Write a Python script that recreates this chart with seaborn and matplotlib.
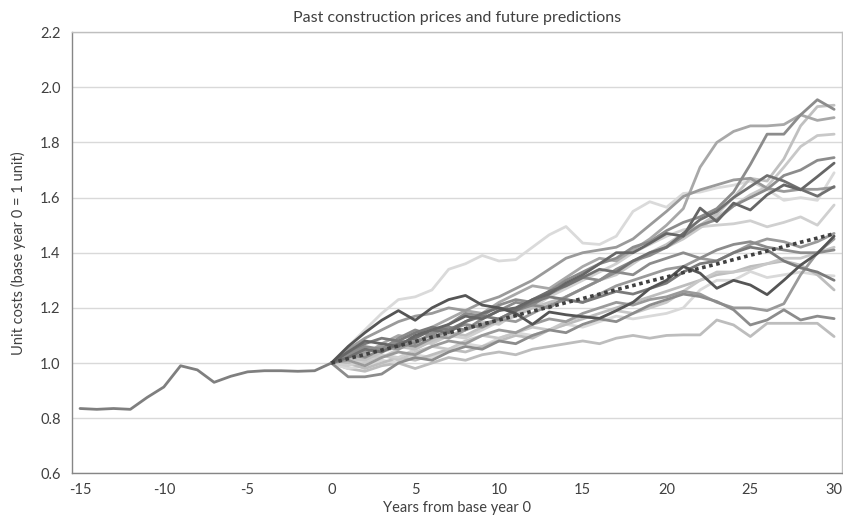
import matplotlib
matplotlib.use("Agg")
from matplotlib import pyplot as plt
import pandas as pd
import seaborn as sns

# past prices, years -15..0
past_years = list(range(-15, 1))
past_costs = [0.835, 0.832, 0.835, 0.832, 0.875, 0.913, 0.99, 0.975, 0.93,
              0.952, 0.968, 0.972, 0.972, 0.970, 0.972, 1.0]

# predicted scenarios, years 0..30
future_years = list(range(0, 31))
scen_a = [1.00, 1.03, 1.06, 1.05, 1.09, 1.12, 1.10, 1.14, 1.18, 1.17, 1.21, 1.23, 1.22, 1.26, 1.30, 1.33,
          1.36, 1.38, 1.42, 1.44, 1.48, 1.51, 1.53, 1.56, 1.62, 1.72, 1.83, 1.83, 1.90, 1.955, 1.92]
scen_b = [1.00, 1.02, 1.01, 1.04, 1.06, 1.05, 1.08, 1.11, 1.10, 1.13, 1.15, 1.17, 1.20, 1.22, 1.24, 1.27,
          1.30, 1.33, 1.37, 1.40, 1.43, 1.47, 1.50, 1.54, 1.60, 1.67, 1.66, 1.74, 1.86, 1.93, 1.935]
scen_c = [1.00, 1.04, 1.03, 1.07, 1.10, 1.09, 1.13, 1.16, 1.19, 1.18, 1.22, 1.25, 1.28, 1.27, 1.31, 1.35,
          1.38, 1.37, 1.41, 1.45, 1.50, 1.56, 1.71, 1.80, 1.84, 1.86, 1.86, 1.865, 1.90, 1.88, 1.89]
scen_d = [1.00, 1.01, 1.03, 1.02, 1.05, 1.08, 1.07, 1.10, 1.12, 1.15, 1.14, 1.18, 1.21, 1.20, 1.24, 1.27,
          1.30, 1.32, 1.36, 1.40, 1.42, 1.45, 1.49, 1.53, 1.57, 1.61, 1.64, 1.71, 1.785, 1.825, 1.83]
scen_e = [1.00, 1.03, 1.02, 1.05, 1.08, 1.07, 1.11, 1.13, 1.12, 1.16, 1.19, 1.22, 1.21, 1.25, 1.28, 1.31,
          1.30, 1.34, 1.37, 1.39, 1.42, 1.46, 1.50, 1.52, 1.57, 1.60, 1.63, 1.68, 1.70, 1.735, 1.745]
scen_f = [1.00, 1.04, 1.08, 1.07, 1.06, 1.10, 1.12, 1.14, 1.17, 1.16, 1.19, 1.20, 1.23, 1.25, 1.29, 1.32,
          1.36, 1.40, 1.40, 1.434, 1.47, 1.46, 1.562, 1.513, 1.58, 1.555, 1.61, 1.646, 1.628, 1.676, 1.725]
scen_g = [1.00, 1.06, 1.12, 1.18, 1.23, 1.24, 1.265, 1.34, 1.36, 1.39, 1.37, 1.375, 1.42, 1.465, 1.495, 1.435,
          1.43, 1.46, 1.55, 1.585, 1.565, 1.615, 1.62, 1.635, 1.645, 1.66, 1.63, 1.59, 1.60, 1.59, 1.69]
scen_h = [1.00, 1.02, 1.05, 1.04, 1.07, 1.09, 1.12, 1.11, 1.15, 1.18, 1.20, 1.19, 1.23, 1.26, 1.28, 1.31,
          1.34, 1.33, 1.37, 1.40, 1.42, 1.47, 1.52, 1.55, 1.60, 1.64, 1.68, 1.66, 1.63, 1.605, 1.64]
scen_i = [1.00, 1.05, 1.09, 1.12, 1.15, 1.17, 1.18, 1.20, 1.19, 1.22, 1.24, 1.27, 1.30, 1.34, 1.38, 1.40,
          1.41, 1.42, 1.45, 1.50, 1.55, 1.604, 1.628, 1.646, 1.664, 1.67, 1.634, 1.622, 1.63, 1.63, 1.637]
scen_j = [1.00, 0.99, 1.01, 1.03, 1.02, 1.05, 1.08, 1.10, 1.09, 1.12, 1.15, 1.18, 1.20, 1.24, 1.27, 1.30,
          1.33, 1.36, 1.40, 1.43, 1.46, 1.483, 1.494, 1.50, 1.505, 1.516, 1.494, 1.51, 1.53, 1.50, 1.573]
scen_k = [1.00, 1.06, 1.11, 1.155, 1.19, 1.155, 1.20, 1.23, 1.245, 1.21, 1.20, 1.18, 1.14, 1.185, 1.175, 1.168,
          1.162, 1.19, 1.22, 1.27, 1.30, 1.35, 1.326, 1.271, 1.30, 1.283, 1.248, 1.30, 1.355, 1.397, 1.46]
scen_l = [1.00, 1.02, 1.04, 1.06, 1.05, 1.08, 1.10, 1.09, 1.12, 1.14, 1.16, 1.15, 1.18, 1.21, 1.23, 1.22,
          1.25, 1.28, 1.30, 1.32, 1.34, 1.35, 1.38, 1.37, 1.40, 1.43, 1.45, 1.44, 1.42, 1.44, 1.47]
scen_m = [1.00, 1.01, 0.99, 1.02, 1.04, 1.03, 1.06, 1.08, 1.07, 1.10, 1.12, 1.11, 1.14, 1.16, 1.15, 1.18,
          1.20, 1.22, 1.21, 1.23, 1.24, 1.26, 1.25, 1.22, 1.20, 1.20, 1.19, 1.215, 1.32, 1.40, 1.45]
scen_n = [1.00, 1.03, 1.05, 1.04, 1.07, 1.06, 1.09, 1.12, 1.14, 1.13, 1.16, 1.19, 1.21, 1.20, 1.24, 1.27,
          1.30, 1.33, 1.32, 1.36, 1.38, 1.40, 1.38, 1.41, 1.43, 1.44, 1.42, 1.41, 1.40, 1.40, 1.41]
scen_o = [1.00, 0.98, 0.99, 1.01, 1.00, 1.03, 1.02, 1.05, 1.07, 1.06, 1.09, 1.11, 1.10, 1.12, 1.14, 1.13,
          1.15, 1.17, 1.16, 1.17, 1.18, 1.20, 1.265, 1.30, 1.30, 1.332, 1.31, 1.32, 1.33, 1.32, 1.316]
scen_p = [1.00, 1.04, 1.07, 1.09, 1.08, 1.11, 1.13, 1.12, 1.15, 1.17, 1.16, 1.19, 1.22, 1.24, 1.23, 1.22,
          1.24, 1.26, 1.25, 1.27, 1.29, 1.33, 1.36, 1.37, 1.40, 1.42, 1.41, 1.37, 1.345, 1.33, 1.30]
scen_q = [1.00, 1.00, 0.98, 1.00, 1.02, 1.01, 1.03, 1.05, 1.04, 1.06, 1.08, 1.10, 1.09, 1.12, 1.14, 1.16,
          1.18, 1.20, 1.22, 1.24, 1.26, 1.28, 1.30, 1.32, 1.33, 1.35, 1.36, 1.37, 1.355, 1.32, 1.265]
scen_r = [1.00, 0.95, 0.95, 0.96, 1.00, 1.02, 1.01, 1.04, 1.06, 1.05, 1.08, 1.07, 1.10, 1.12, 1.11, 1.14,
          1.16, 1.15, 1.18, 1.21, 1.23, 1.25, 1.241, 1.223, 1.193, 1.138, 1.156, 1.193, 1.156, 1.17, 1.161]
scen_s = [1.00, 0.98, 0.97, 0.99, 1.00, 0.98, 1.00, 1.02, 1.01, 1.03, 1.04, 1.03, 1.05, 1.06, 1.07, 1.08,
          1.07, 1.09, 1.10, 1.09, 1.10, 1.102, 1.102, 1.156, 1.138, 1.096, 1.144, 1.144, 1.144, 1.144, 1.096]
scen_t = [1.00, 1.02, 1.00, 1.03, 1.01, 1.04, 1.06, 1.05, 1.08, 1.10, 1.09, 1.11, 1.13, 1.12, 1.15, 1.17,
          1.16, 1.19, 1.18, 1.20, 1.22, 1.26, 1.30, 1.33, 1.33, 1.34, 1.36, 1.38, 1.38, 1.40, 1.42]

# average prediction (dotted)
mean_pred = [1.000, 1.016, 1.031, 1.047, 1.062, 1.078, 1.094, 1.109, 1.125, 1.141, 1.156, 1.172, 1.188,
             1.203, 1.219, 1.234, 1.250, 1.266, 1.281, 1.297, 1.312, 1.328, 1.344, 1.359, 1.375, 1.391,
             1.406, 1.422, 1.438, 1.453, 1.469]

scenarios = {
    "s": scen_s, "o": scen_o, "q": scen_q, "t": scen_t, "j": scen_j, "g": scen_g, "d": scen_d,
    "b": scen_b, "c": scen_c, "m": scen_m, "l": scen_l, "i": scen_i, "r": scen_r, "n": scen_n,
    "a": scen_a, "e": scen_e, "p": scen_p, "h": scen_h, "f": scen_f, "k": scen_k,
}
grays = {
    "a": "#8c8c8c", "b": "#c0c0c0", "c": "#a8a8a8", "d": "#c8c8c8", "e": "#8c8c8c",
    "f": "#666666", "g": "#dadada", "h": "#707070", "i": "#9a9a9a", "j": "#d0d0d0",
    "k": "#555555", "l": "#9a9a9a", "m": "#9a9a9a", "n": "#8c8c8c", "o": "#d9d9d9",
    "p": "#7a7a7a", "q": "#bdbdbd", "r": "#8c8c8c", "s": "#bdbdbd", "t": "#c8c8c8",
}

rows = []
for name, vals in scenarios.items():
    for yr, v in zip(future_years, vals):
        rows.append({"year": yr, "cost": v, "scenario": name})
df = pd.DataFrame(rows)

sns.set_style("white")
plt.rcParams['font.family'] = ['Lato', 'DejaVu Sans']
plt.rcParams['axes.unicode_minus'] = False
text_col = "#404040"

fig = plt.figure(figsize=(8.43, 5.28), dpi=100)
ax = fig.add_axes([0.085, 0.1036, 0.9144, 0.8355])

ax.set_axisbelow(True)
ax.grid(axis="y", color="#d9d9d9", linewidth=1)

sns.lineplot(data=df, x="year", y="cost", hue="scenario", palette=grays,
             hue_order=list(scenarios.keys()), linewidth=2, legend=False, ax=ax)
sns.lineplot(x=past_years, y=past_costs, color="#7f7f7f", linewidth=2, ax=ax)
sns.lineplot(x=future_years, y=mean_pred, color="#404040", linewidth=2.6,
             linestyle=(0, (1, 1)), ax=ax)

ax.set_xlim(-15.5, 30.5)
ax.set_ylim(0.6, 2.2)
ax.set_xticks(range(-15, 31, 5))
ax.set_xticks([x + 0.5 for x in range(-16, 31)], minor=True)
ax.set_yticks([0.6 + 0.2 * i for i in range(9)])
ax.set_yticklabels([f"{0.6 + 0.2 * i:.1f}" for i in range(9)])
ax.tick_params(axis="x", which="major", length=0, labelsize=10.5, labelcolor=text_col, pad=7)
ax.tick_params(axis="x", which="minor", length=4, width=1, color="#868686", direction="out")
ax.tick_params(axis="y", length=0, labelsize=10.5, labelcolor=text_col, pad=8)

for side in ["left", "bottom"]:
    ax.spines[side].set_color("#868686")
    ax.spines[side].set_linewidth(1)
for side in ["top", "right"]:
    ax.spines[side].set_color("#bfbfbf")
    ax.spines[side].set_linewidth(1)

ax.set_title("Past construction prices and future predictions", fontsize=11.5, color=text_col, pad=7)
ax.set_xlabel("Years from base year 0", fontsize=10.5, color=text_col, labelpad=3)
ax.set_ylabel("Unit costs (base year 0 = 1 unit)", fontsize=10.5, color=text_col, labelpad=10)

fig.savefig("out.png", dpi=100)
